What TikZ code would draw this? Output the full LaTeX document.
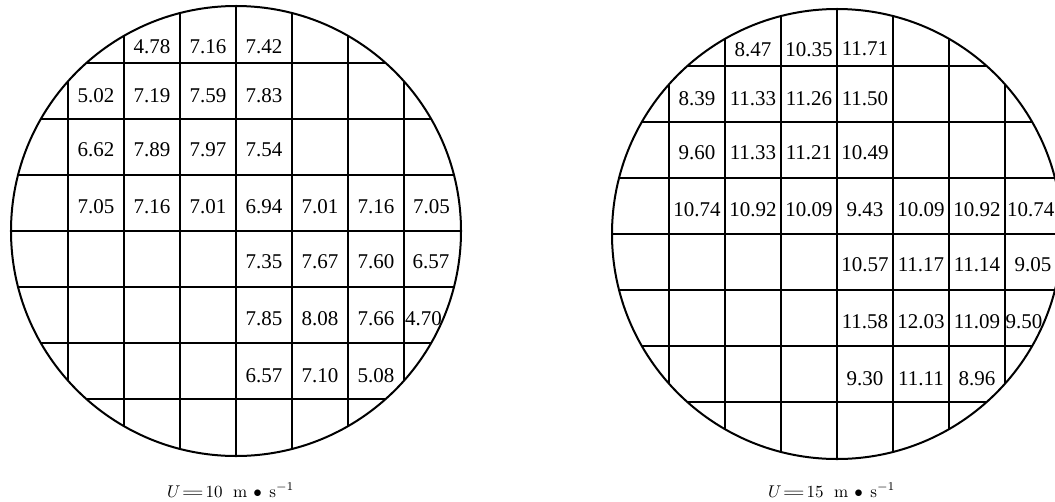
\RequirePackage{fix-cm}
\documentclass[tikz,border=0pt]{standalone}
\usepackage{fontspec}
\newfontfamily\numfont{Liberation Serif}
\newcommand{\mycaption}[1]{\scalebox{1.7}{$U$\kern0.05em\scalebox{1.7}[1]{$=$}\kern0.1em #1\hspace{0.62em}m\hspace{0.35em}$\bullet$\hspace{0.44em}s$^{-1}$}}
\tikzset{
  ring/.style={line width=2pt},
  gridline/.style={line width=2pt},
  val/.style={font=\numfont\fontsize{21}{21}\selectfont, inner sep=0pt},
  captext/.style={inner sep=0pt, anchor=base west}
}
\begin{document}
\begin{tikzpicture}[x=1pt,y=-1pt]
\useasboundingbox (0,0) rectangle (1055,501);
\clip (0,0) rectangle (1055,501);
% left disc
\begin{scope}[shift={(236,231)},x=56pt,y=56pt]
  \begin{scope}
    \clip (0,0) circle (4.018);
    \foreach \k in {-3,...,3} {
      \draw[gridline] (\k,-4.2) -- (\k,4.2);
      \draw[gridline] (-4.2,\k) -- (4.2,\k);
    }
  \end{scope}
  \draw[ring] (0,0) circle (4.018);
  \foreach \x/\y/\t [count=\i] in {
    -1.5/3.30/4.78, -0.5/3.30/7.16, 0.5/3.30/7.42,
    -2.5/2.42/5.02, -1.5/2.42/7.19, -0.5/2.42/7.59, 0.5/2.42/7.83,
    -2.5/1.45/6.62, -1.5/1.45/7.89, -0.5/1.45/7.97, 0.5/1.45/7.54,
    -2.5/0.43/7.05, -1.5/0.43/7.16, -0.5/0.43/7.01, 0.5/0.43/6.94, 1.5/0.43/7.01, 2.5/0.43/7.16, 3.49/0.43/7.05,
    0.5/-0.55/7.35, 1.5/-0.55/7.67, 2.5/-0.55/7.60, 3.48/-0.55/6.57,
    0.5/-1.56/7.85, 1.5/-1.56/8.08, 2.5/-1.56/7.66, 3.35/-1.56/4.70,
    0.5/-2.58/6.57, 1.5/-2.58/7.10, 2.5/-2.58/5.08}
    \node[val] (L\i) at (\x,\y) {\t};
\end{scope}
% right disc
\begin{scope}[shift={(837,234)},x=56pt,y=56pt]
  \begin{scope}
    \clip (0,0) circle (4.018);
    \foreach \k in {-3,...,3} {
      \draw[gridline] (\k,-4.2) -- (\k,4.2);
      \draw[gridline] (-4.2,\k) -- (4.2,\k);
    }
  \end{scope}
  \draw[ring] (0,0) circle (4.018);
  \foreach \x/\y/\t [count=\i] in {
    -1.5/3.30/8.47, -0.5/3.30/10.35, 0.5/3.30/11.71,
    -2.5/2.42/8.39, -1.5/2.42/11.33, -0.5/2.42/11.26, 0.5/2.42/11.50,
    -2.5/1.45/9.60, -1.5/1.45/11.33, -0.5/1.45/11.21, 0.5/1.45/10.49,
    -2.5/0.43/10.74, -1.5/0.43/10.92, -0.5/0.43/10.09, 0.5/0.43/9.43, 1.5/0.43/10.09, 2.5/0.43/10.92, 3.46/0.43/10.74,
    0.5/-0.55/10.57, 1.5/-0.55/11.17, 2.5/-0.55/11.14, 3.5/-0.55/9.05,
    0.5/-1.56/11.58, 1.5/-1.56/12.03, 2.5/-1.56/11.09, 3.34/-1.56/9.50,
    0.5/-2.58/9.30, 1.5/-2.58/11.11, 2.5/-2.58/8.96}
    \node[val] (R\i) at (\x,\y) {\t};
\end{scope}
% captions
\node[captext] (capL) at (167,497) {\mycaption{10}};
\node[captext] (capR) at (768,497) {\mycaption{15}};
\end{tikzpicture}
\end{document}
